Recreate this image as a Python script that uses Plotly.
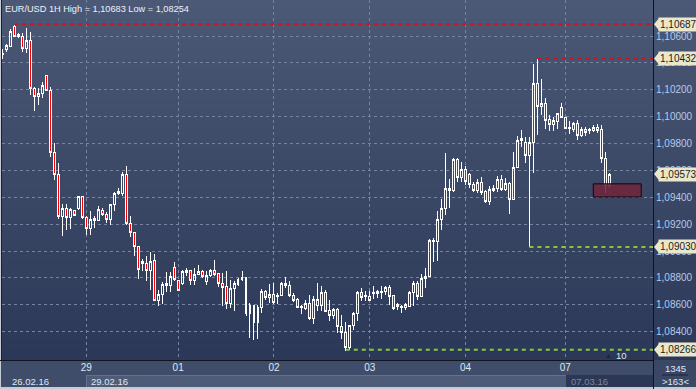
import plotly.graph_objects as go

title_text = "EUR/USD 1H High = 1,10683 Low = 1,08254"

opens = [
    1.10460, 1.10501, 1.10521, 1.10674, 1.10598, 1.10600, 1.10509, 1.10570, 1.10211, 1.10149,
    1.10174, 1.10303, 1.10193, 1.09733, 1.09572, 1.09257, 1.09315, 1.09253, 1.09302, 1.09320,
    1.09404, 1.09253, 1.09164, 1.09228, 1.09228, 1.09302, 1.09275, 1.09238, 1.09344, 1.09426,
    1.09426, 1.09567, 1.09208, 1.09141, 1.09035, 1.08923, 1.08904, 1.08854, 1.08928, 1.08631,
    1.08676, 1.08745, 1.08745, 1.08881, 1.08782, 1.08758, 1.08841, 1.08852, 1.08782, 1.08829,
    1.08844, 1.08775, 1.08817, 1.08854, 1.08832, 1.08755, 1.08733, 1.08607, 1.08718, 1.08750,
    1.08787, 1.08800, 1.08535, 1.08594, 1.08465, 1.08577, 1.08700, 1.08651, 1.08676, 1.08659,
    1.08668, 1.08762, 1.08745, 1.08668, 1.08639, 1.08577, 1.08572, 1.08609, 1.08495, 1.08596,
    1.08596, 1.08695, 1.08557, 1.08522, 1.08564, 1.08436, 1.08391, 1.08280, 1.08445, 1.08535,
    1.08691, 1.08659, 1.08659, 1.08683, 1.08683, 1.08688, 1.08698, 1.08730, 1.08668, 1.08601,
    1.08577, 1.08577, 1.08589, 1.08693, 1.08762, 1.08663, 1.08792, 1.08812, 1.09069, 1.09072,
    1.09233, 1.09320, 1.09468, 1.09451, 1.09679, 1.09547, 1.09610, 1.09567, 1.09498, 1.09451,
    1.09513, 1.09441, 1.09367, 1.09451, 1.09463, 1.09530, 1.09461, 1.09506, 1.09382, 1.09624,
    1.09820, 1.09810, 1.09711, 1.09810, 1.10249, 1.10075, 1.10095, 1.09976, 1.09944, 1.09963,
    1.10070, 1.09996, 1.09909, 1.09906, 1.09951, 1.09859, 1.09902, 1.09894, 1.09896, 1.09922,
    1.09902, 1.09691, 1.09486,
]
highs = [
    1.10500, 1.10541, 1.10650, 1.10683, 1.10620, 1.10620, 1.10657, 1.10627, 1.10223, 1.10214,
    1.10260, 1.10310, 1.10223, 1.09803, 1.09658, 1.09350, 1.09350, 1.09322, 1.09307, 1.09413,
    1.09406, 1.09257, 1.09295, 1.09263, 1.09332, 1.09320, 1.09287, 1.09352, 1.09439, 1.09468,
    1.09587, 1.09629, 1.09263, 1.09141, 1.09040, 1.08941, 1.08960, 1.08993, 1.08980, 1.08713,
    1.08767, 1.08841, 1.08844, 1.08919, 1.08787, 1.08861, 1.08874, 1.08861, 1.08874, 1.08899,
    1.08856, 1.08849, 1.08866, 1.08935, 1.08837, 1.08837, 1.08849, 1.08787, 1.08775, 1.08800,
    1.08849, 1.08804, 1.08614, 1.08601, 1.08601, 1.08718, 1.08713, 1.08755, 1.08762, 1.08688,
    1.08767, 1.08804, 1.08775, 1.08688, 1.08651, 1.08601, 1.08639, 1.08676, 1.08668, 1.08762,
    1.08737, 1.08713, 1.08639, 1.08577, 1.08577, 1.08527, 1.08470, 1.08453, 1.08544, 1.08703,
    1.08728, 1.08703, 1.08703, 1.08737, 1.08713, 1.08737, 1.08743, 1.08745, 1.08676, 1.08614,
    1.08596, 1.08614, 1.08700, 1.08775, 1.08775, 1.08829, 1.08874, 1.09089, 1.09096, 1.09295,
    1.09387, 1.09728, 1.09535, 1.09691, 1.09691, 1.09659, 1.09629, 1.09580, 1.09517, 1.09535,
    1.09550, 1.09456, 1.09486, 1.09493, 1.09555, 1.09567, 1.09543, 1.09517, 1.09740, 1.09857,
    1.09902, 1.09847, 1.09847, 1.10392, 1.10432, 1.10278, 1.10137, 1.10013, 1.09996, 1.10030,
    1.10100, 1.10000, 1.09968, 1.09963, 1.09976, 1.09922, 1.09926, 1.09919, 1.09939, 1.09946,
    1.09939, 1.09740, 1.09580,
]
lows = [
    1.10427, 1.10483, 1.10516, 1.10593, 1.10586, 1.10483, 1.10471, 1.10162, 1.10045, 1.10087,
    1.10137, 1.10189, 1.09703, 1.09525, 1.09240, 1.09109, 1.09153, 1.09166, 1.09257, 1.09307,
    1.09240, 1.09122, 1.09122, 1.09173, 1.09220, 1.09257, 1.09208, 1.09190, 1.09300, 1.09419,
    1.09406, 1.09196, 1.09104, 1.08960, 1.08792, 1.08849, 1.08775, 1.08713, 1.08626, 1.08589,
    1.08609, 1.08693, 1.08693, 1.08775, 1.08700, 1.08750, 1.08812, 1.08745, 1.08750, 1.08819,
    1.08800, 1.08745, 1.08807, 1.08812, 1.08730, 1.08589, 1.08569, 1.08577, 1.08551, 1.08738,
    1.08775, 1.08520, 1.08354, 1.08336, 1.08342, 1.08540, 1.08639, 1.08614, 1.08609, 1.08609,
    1.08663, 1.08725, 1.08659, 1.08618, 1.08577, 1.08535, 1.08559, 1.08490, 1.08460, 1.08551,
    1.08551, 1.08543, 1.08478, 1.08495, 1.08391, 1.08347, 1.08254, 1.08262, 1.08411, 1.08478,
    1.08626, 1.08626, 1.08626, 1.08644, 1.08651, 1.08644, 1.08676, 1.08601, 1.08564, 1.08559,
    1.08540, 1.08559, 1.08584, 1.08589, 1.08639, 1.08663, 1.08725, 1.08807, 1.08922, 1.08929,
    1.09159, 1.09270, 1.09320, 1.09436, 1.09510, 1.09517, 1.09493, 1.09468, 1.09436, 1.09434,
    1.09419, 1.09357, 1.09344, 1.09436, 1.09439, 1.09443, 1.09443, 1.09277, 1.09382, 1.09621,
    1.09777, 1.09658, 1.09030, 1.09580, 1.09864, 1.10013, 1.09906, 1.09896, 1.09896, 1.09906,
    1.09988, 1.09906, 1.09872, 1.09889, 1.09827, 1.09847, 1.09857, 1.09870, 1.09884, 1.09882,
    1.09654, 1.09431, 1.09468,
]
closes = [
    1.10470, 1.10526, 1.10637, 1.10595, 1.10612, 1.10509, 1.10570, 1.10211, 1.10149, 1.10174,
    1.10229, 1.10193, 1.09733, 1.09572, 1.09257, 1.09315, 1.09253, 1.09307, 1.09268, 1.09406,
    1.09250, 1.09164, 1.09238, 1.09240, 1.09307, 1.09275, 1.09238, 1.09344, 1.09431, 1.09443,
    1.09567, 1.09208, 1.09141, 1.09035, 1.08861, 1.08904, 1.08854, 1.08923, 1.08631, 1.08676,
    1.08750, 1.08755, 1.08807, 1.08787, 1.08708, 1.08844, 1.08852, 1.08782, 1.08829, 1.08844,
    1.08807, 1.08817, 1.08854, 1.08829, 1.08755, 1.08730, 1.08607, 1.08718, 1.08758, 1.08787,
    1.08800, 1.08535, 1.08594, 1.08465, 1.08577, 1.08700, 1.08651, 1.08676, 1.08614, 1.08668,
    1.08762, 1.08743, 1.08668, 1.08633, 1.08581, 1.08589, 1.08609, 1.08495, 1.08639, 1.08639,
    1.08695, 1.08551, 1.08522, 1.08564, 1.08436, 1.08391, 1.08280, 1.08445, 1.08535, 1.08691,
    1.08651, 1.08668, 1.08633, 1.08693, 1.08698, 1.08698, 1.08730, 1.08663, 1.08569, 1.08584,
    1.08589, 1.08601, 1.08695, 1.08762, 1.08663, 1.08792, 1.08812, 1.09079, 1.09079, 1.09238,
    1.09320, 1.09468, 1.09451, 1.09679, 1.09547, 1.09610, 1.09517, 1.09498, 1.09451, 1.09513,
    1.09436, 1.09367, 1.09456, 1.09463, 1.09530, 1.09461, 1.09506, 1.09382, 1.09624, 1.09820,
    1.09840, 1.09711, 1.09810, 1.10249, 1.10075, 1.10095, 1.09971, 1.09944, 1.09968, 1.10020,
    1.09996, 1.09914, 1.09919, 1.09951, 1.09859, 1.09902, 1.09882, 1.09906, 1.09922, 1.09896,
    1.09691, 1.09486, 1.09573,
]
assert len(opens) == len(highs) == len(lows) == len(closes)

day_labels = ["29", "01", "02", "03", "04", "07"]
day_first_bar = [22, 45, 69, 93, 117, 142]
date_labels = ["26.02.16", "29.02.16", "07.03.16"]
price_ticks = [1.084, 1.086, 1.088, 1.090, 1.092, 1.094, 1.096, 1.098, 1.100, 1.102, 1.104, 1.106]

level_values = [1.10687, 1.10432, 1.09030, 1.08266]
level_start_bar = [4, 135, 133, 87]
level_colors = ["#d4121c", "#d4121c", "#8cc63e", "#8cc63e"]
tag_values = [1.10687, 1.10432, 1.09573, 1.09030, 1.08266]

zone_bars = [149, 161]
zone_prices = [1.09402, 1.09500]

bars = list(range(1, len(opens) + 1))

W, H = 696, 389
L, R, T, B = 2, 43, 0, 29
PW, PH = W - L - R, H - T - B
X_RANGE = [0.88, 163.95]
Y_RANGE = [1.08189, 1.10868]

FONT = "Liberation Sans, Arial, sans-serif"


def px_x(p):
    return (p - L) / PW


def px_y(p):
    return (PH - p) / PH


fig = go.Figure()

for v, s, c in zip(level_values, level_start_bar, level_colors):
    fig.add_trace(go.Scatter(
        x=[s, X_RANGE[1] + 2], y=[v, v], mode="lines",
        line=dict(color=c, width=2, dash="4px,4px"),
        hoverinfo="skip", showlegend=False,
    ))

fig.add_trace(go.Candlestick(
    x=bars, open=opens, high=highs, low=lows, close=closes,
    increasing=dict(line=dict(color="#ffffff", width=1), fillcolor="rgba(0,0,0,0)"),
    decreasing=dict(line=dict(color="#ffffff", width=1), fillcolor="#ff0000"),
    whiskerwidth=0, showlegend=False, hoverinfo="skip",
))

shapes = []
# gradient background
top = (75, 89, 118)
bot = (43, 56, 87)
n = 36
for i in range(n):
    t = (i + 0.5) / n
    col = tuple(round(top[k] + (bot[k] - top[k]) * t) for k in range(3))
    shapes.append(dict(
        type="rect", xref="paper", yref="paper", layer="below",
        x0=px_x(-2), x1=px_x(W + 2),
        y0=px_y((i + 1) * PH / n + 0.5), y1=px_y(i * PH / n - 0.5),
        fillcolor="rgb(%d,%d,%d)" % col, line=dict(width=0),
    ))


def rect(x0, x1, y0, y1, color, layer="above"):
    shapes.append(dict(type="rect", xref="paper", yref="paper", layer=layer,
                       x0=px_x(x0), x1=px_x(x1), y0=px_y(y1), y1=px_y(y0),
                       fillcolor=color, line=dict(width=0)))


rect(0, W, 360, H, "#3f4d6a", layer="below")
rect(86, 566, 375, 387, "#4e5c78", layer="below")
rect(86, 566, 375, 376, "#63718c", layer="below")
rect(86, 87, 375, 387, "#63718c", layer="below")
rect(566, 653, 375, 387, "#2b3755", layer="below")
rect(653, W, 360, H, "#3a4866", layer="below")
rect(0, W, 387, H, "#c7cbd3")
rect(0, 1, 0, H, "#c7cbd3")
rect(1, 2, 0, 360, "#1a2030")
rect(653, 654, 0, H, "#10141c")
rect(0, 653, 360, 361, "#10141c")
rect(662, 688, 374.5, 375.5, "#1c2333")

# zone box
shapes.append(dict(type="rect", xref="x", yref="y", layer="above",
                   x0=zone_bars[0], x1=zone_bars[1], y0=zone_prices[0], y1=zone_prices[1],
                   fillcolor="rgba(112,38,62,0.88)", line=dict(color="#0a0a0a", width=1)))

# tag arrows
for v in tag_values:
    shapes.append(dict(type="path", xref="paper", yref="y", layer="above",
                       xsizemode="pixel", ysizemode="pixel", xanchor=1, yanchor=v,
                       path="M 1,0 L 6,6 L 6,-6 Z", fillcolor="#ebe7cb",
                       line=dict(color="#ebe7cb", width=0)))

annotations = [
    dict(text=title_text, xref="paper", yref="paper", x=0, y=1, xshift=1, yshift=-2,
         xanchor="left", yanchor="top", showarrow=False,
         font=dict(family=FONT, size=9.2, color="#eef2fa")),
]
for v in tag_values:
    annotations.append(dict(
        text=("%.5f" % v).replace(".", ","), xref="paper", yref="y", x=1, y=v,
        xshift=5, xanchor="left", yanchor="middle", showarrow=False,
        bgcolor="#ebe7cb", borderpad=1,
        font=dict(family=FONT, size=10, color="#1c1c1c")))


def label(text, x, y, color="#dfe7f3", anchor="left", size=9.5):
    annotations.append(dict(text=text, xref="paper", yref="paper", x=px_x(x), y=px_y(y),
                            xanchor=anchor, yanchor="middle", showarrow=False,
                            font=dict(family=FONT, size=size, color=color)))


label(date_labels[0], 10, 381)
label(date_labels[1], 89, 381)
label(date_labels[2], 569, 381, color="#7d889e")
label("1345", 675, 368, anchor="center")
label("&gt;163&lt;", 675, 381, anchor="center")
label("10", 614, 355)
label("▲", 608, 355, color="#1e2638", anchor="center", size=7)

fig.update_layout(
    width=W, height=H,
    margin=dict(l=L, r=R, t=T, b=B, pad=0, autoexpand=False),
    paper_bgcolor="#3a4866", plot_bgcolor="rgba(0,0,0,0)",
    separators=", ",
    shapes=shapes, annotations=annotations,
    font=dict(family=FONT, size=10, color="#dfe7f3"),
    xaxis=dict(range=X_RANGE, rangeslider=dict(visible=False), automargin=False,
               tickmode="array", tickvals=day_first_bar, ticktext=day_labels,
               showgrid=True, gridcolor="#7584a0", griddash="3px,3px", gridwidth=1,
               zeroline=False, showline=False, ticks="",
               tickfont=dict(family=FONT, size=10, color="#dfe7f3")),
    yaxis=dict(range=Y_RANGE, side="right", tickmode="array", tickvals=price_ticks,
               tickformat=".5f", showgrid=True, gridcolor="#7584a0", griddash="3px,3px",
               gridwidth=1, zeroline=False, showline=False, ticks="", automargin=False,
               ticklabelstandoff=2,
               tickfont=dict(family=FONT, size=10, color="#b4caee")),
)

post = (
    "document.body.style.margin='0';document.body.style.overflow='hidden';"
    "document.querySelectorAll('.boxlayer path, .gridlayer path').forEach(function(p){"
    "p.style.shapeRendering='crispEdges';});"
)
fig.write_html("out.html", config={"displayModeBar": False}, post_script=post)
